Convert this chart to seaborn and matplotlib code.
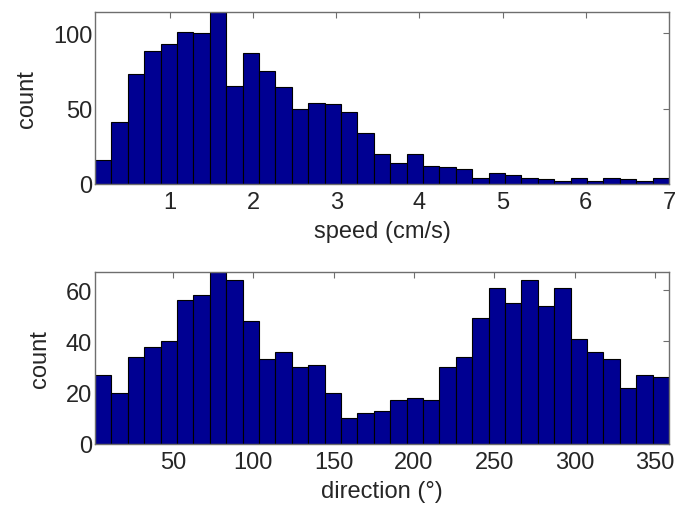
import numpy as np
import pandas as pd
import seaborn as sns
import matplotlib
matplotlib.use("Agg")
import matplotlib.pyplot as plt

# Histogram counts (35 bins each)
speed_counts = [16, 41, 73, 88, 93, 101, 100, 114, 65, 87, 75, 64, 50, 54, 53,
                48, 34, 20, 14, 20, 12, 11, 10, 4, 7, 6, 4, 3, 2, 4,
                2, 4, 3, 2, 4]
speed_range = [0.1, 7.0]

direction_counts = [27, 20, 34, 38, 40, 56, 58, 67, 64, 48, 33, 36, 30, 31, 20,
                    10, 12, 13, 17, 18, 17, 30, 34, 49, 61, 55, 64, 54, 61, 41,
                    36, 33, 22, 27, 26]
direction_range = [1.5, 358.7]

speed_ticks = [1, 2, 3, 4, 5, 6, 7]
speed_yticks = [0, 50, 100]
direction_ticks = [50, 100, 150, 200, 250, 300, 350]
direction_yticks = [0, 20, 40, 60]

sns.set_theme(style="white")
plt.rcParams["font.family"] = ["Liberation Sans", "DejaVu Sans"]

BAR = "#000092"
TXT = "#262626"
FRAME = "#6e6e6e"
FS = 17


def panel(ax, counts, rng, xlabel, xticks, yticks):
    edges = np.linspace(rng[0], rng[1], len(counts) + 1)
    centers = (edges[:-1] + edges[1:]) / 2
    df = pd.DataFrame({"x": centers, "n": counts})
    sns.histplot(data=df, x="x", weights="n", bins=list(edges), ax=ax,
                 color=BAR, alpha=1.0, edgecolor="black", linewidth=0.8)
    ax.set_xlim(rng)
    ax.set_ylim(0, max(counts))
    ax.set_xticks(xticks)
    ax.set_yticks(yticks)
    ax.set_xlabel(xlabel, fontsize=FS, color=TXT, labelpad=5)
    ax.set_ylabel("count", fontsize=FS, color=TXT, labelpad=11)
    ax.tick_params(direction="in", length=4, width=0.8, color=FRAME,
                   top=True, right=True, labelsize=FS, labelcolor=TXT)
    ax.tick_params(axis="x", pad=5)
    ax.tick_params(axis="y", pad=2)
    for s in ax.spines.values():
        s.set_color(FRAME)
        s.set_linewidth(1.0)
        s.set_visible(True)


fig = plt.figure(figsize=(6.92, 5.06), dpi=100)
ax1 = fig.add_axes([0.1373, 0.6344, 0.8295, 0.3399])
ax2 = fig.add_axes([0.1373, 0.1206, 0.8295, 0.3393])

panel(ax1, speed_counts, speed_range, "speed (cm/s)", speed_ticks, speed_yticks)
panel(ax2, direction_counts, direction_range, "direction (°)",
      direction_ticks, direction_yticks)

fig.savefig("out.png", dpi=100, facecolor="white")
